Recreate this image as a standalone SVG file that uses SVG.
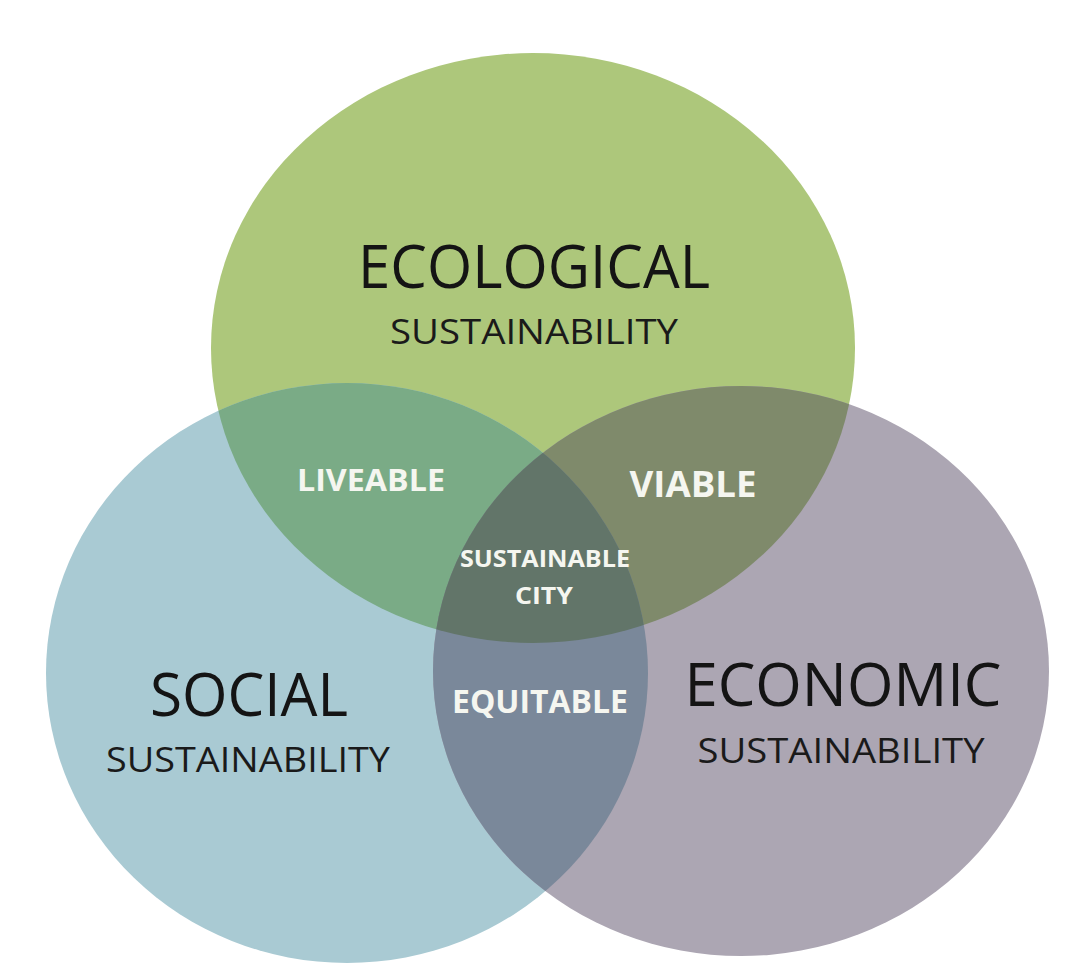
<svg xmlns="http://www.w3.org/2000/svg" width="1072" height="968" viewBox="0 0 1072 968">
<style>
.big{font-family:"Open Sans","Liberation Sans",sans-serif;font-size:61px;fill:#141414;text-anchor:middle}
.sub{font-family:"Open Sans","Liberation Sans",sans-serif;font-size:35px;fill:#1a1a1a;text-anchor:middle}
.lbl{font-family:"Open Sans","Liberation Sans",sans-serif;font-weight:bold;fill:#f5f6f0;text-anchor:middle}
</style>
<defs>
<clipPath id="cG"><ellipse cx="533" cy="348" rx="322" ry="295"/></clipPath>
<clipPath id="cB"><ellipse cx="347" cy="673" rx="301" ry="290"/></clipPath>
<clipPath id="cP"><ellipse cx="741" cy="671" rx="308" ry="285"/></clipPath>
</defs>
<rect width="1072" height="968" fill="#ffffff"/>
<g id="ecological">
<ellipse cx="533" cy="348" rx="322" ry="295" fill="#adc77b"/>
</g>
<g id="social">
<ellipse cx="347" cy="673" rx="301" ry="290" fill="#a9cad3"/>
</g>
<g id="economic">
<ellipse cx="741" cy="671" rx="308" ry="285" fill="#aca6b3"/>
</g>
<g id="liveable">
<ellipse cx="347" cy="673" rx="301" ry="290" fill="#7aab86" clip-path="url(#cG)"/>
</g>
<g id="viable">
<ellipse cx="741" cy="671" rx="308" ry="285" fill="#7f8a6b" clip-path="url(#cG)"/>
</g>
<g id="equitable">
<ellipse cx="741" cy="671" rx="308" ry="285" fill="#7a889a" clip-path="url(#cB)"/>
</g>
<g id="sustainable-city" clip-path="url(#cG)">
<ellipse cx="741" cy="671" rx="308" ry="285" fill="#627569" clip-path="url(#cB)"/>
</g>
<g id="connectors"></g>
<g id="texts">
<text class="big" x="534" y="288" textLength="352" lengthAdjust="spacingAndGlyphs">ECOLOGICAL</text>
<text class="sub" x="534" y="344" textLength="288" lengthAdjust="spacingAndGlyphs">SUSTAINABILITY</text>
<text class="big" x="249" y="716" textLength="198" lengthAdjust="spacingAndGlyphs">SOCIAL</text>
<text class="sub" x="248" y="772" textLength="284" lengthAdjust="spacingAndGlyphs">SUSTAINABILITY</text>
<text class="big" x="843" y="706" textLength="317" lengthAdjust="spacingAndGlyphs">ECONOMIC</text>
<text class="sub" x="841" y="763" textLength="287" lengthAdjust="spacingAndGlyphs">SUSTAINABILITY</text>
<text class="lbl" x="371" y="491" font-size="31" textLength="148" lengthAdjust="spacingAndGlyphs">LIVEABLE</text>
<text class="lbl" x="693" y="497" font-size="35" textLength="127" lengthAdjust="spacingAndGlyphs">VIABLE</text>
<text class="lbl" x="545" y="567" font-size="24" textLength="170" lengthAdjust="spacingAndGlyphs">SUSTAINABLE</text>
<text class="lbl" x="544" y="604" font-size="24" textLength="58" lengthAdjust="spacingAndGlyphs">CITY</text>
<text class="lbl" x="540" y="713" font-size="33" textLength="176" lengthAdjust="spacingAndGlyphs">EQUITABLE</text>
</g>
</svg>
